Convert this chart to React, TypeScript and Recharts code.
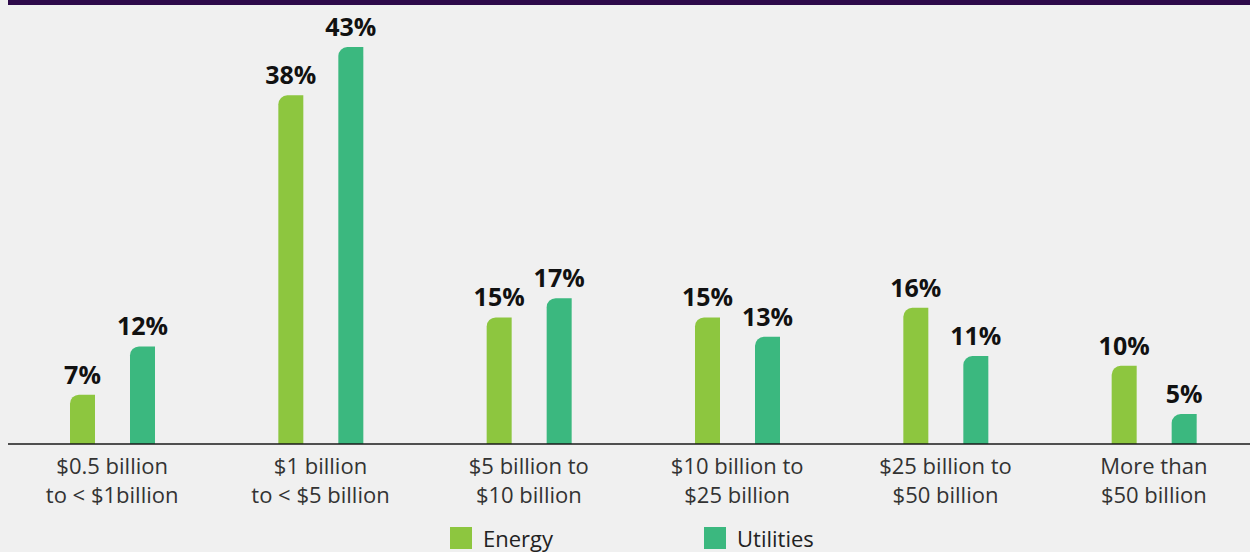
import React from 'react';
import { BarChart, Bar, XAxis, YAxis, LabelList, Legend } from 'recharts';

const categoriesTop = ['$0.5 billion', '$1 billion', '$5 billion to', '$10 billion to', '$25 billion to', 'More than'];
const categoriesBottom = ['to < $1billion', 'to < $5 billion', '$10 billion', '$25 billion', '$50 billion', '$50 billion'];
const energyValues = [7, 38, 15, 15, 16, 10];
const utilitiesValues = [12, 43, 17, 13, 11, 5];

const ENERGY = '#8dc63f';
const UTILITIES = '#3bb87f';
const FONT = '"Open Sans", "DejaVu Sans", sans-serif';

const data = categoriesTop.map((top, i) => ({
  name: top,
  bottom: categoriesBottom[i],
  energy: energyValues[i],
  utilities: utilitiesValues[i],
}));

const TwoLineTick = (props: any) => {
  const { x, y, payload, index } = props;
  return (
    <text x={x} y={y} textAnchor="middle" fill="#333" fontSize={22} fontFamily={FONT}>
      <tspan x={x} dy={22}>{payload.value}</tspan>
      <tspan x={x} dy={29}>{categoriesBottom[index]}</tspan>
    </text>
  );
};

const ValueLabel = (props: any) => {
  const { x, y, width, value } = props;
  return (
    <text x={x + width / 2} y={y - 11} textAnchor="middle" fill="#111" fontSize={25} fontWeight={700} fontFamily={FONT}>
      {value}%
    </text>
  );
};

const LegendContent = () => (
  <div style={{ position: 'relative', height: 28, fontFamily: FONT, fontSize: 22, color: '#222' }}>
    {[
      { label: 'Energy', color: ENERGY, left: 450 },
      { label: 'Utilities', color: UTILITIES, left: 704 },
    ].map((item) => (
      <div key={item.label} style={{ position: 'absolute', left: item.left, top: 0, height: 28, display: 'flex', alignItems: 'center' }}>
        <span style={{ display: 'inline-block', width: 22, height: 22, background: item.color, marginRight: 11 }} />
        <span>{item.label}</span>
      </div>
    ))}
  </div>
);

export default function App() {
  return (
    <div style={{ position: 'absolute', left: 0, top: 0, width: 1250, height: 552, overflow: 'hidden', background: '#f0f0f0' }}>
      <div style={{ position: 'absolute', left: 8, top: 0, width: 1242, height: 5, background: '#2e0a4a' }} />
      <div style={{ position: 'absolute', left: 8, top: 0 }}>
        <BarChart
          width={1250}
          height={552}
          data={data}
          margin={{ top: 47, right: 0, bottom: 0, left: 0 }}
          barSize={25}
          barGap={35}
        >
          <XAxis
            dataKey="name"
            tick={<TwoLineTick />}
            tickLine={false}
            axisLine={{ stroke: '#1a1a1a', strokeWidth: 1.5 }}
            interval={0}
            height={80}
          />
          {/* the source's value axis starts a little above zero */}
          <YAxis hide domain={[1.9, 43]} />
          <Legend
            verticalAlign="bottom"
            content={<LegendContent />}
            wrapperStyle={{ position: 'absolute', left: -8, top: 524, width: 1250, height: 28 }}
          />
          <Bar dataKey="energy" name="Energy" fill={ENERGY} radius={[9, 0, 0, 0]} isAnimationActive={false}>
            <LabelList dataKey="energy" content={<ValueLabel />} />
          </Bar>
          <Bar dataKey="utilities" name="Utilities" fill={UTILITIES} radius={[9, 0, 0, 0]} isAnimationActive={false}>
            <LabelList dataKey="utilities" content={<ValueLabel />} />
          </Bar>
        </BarChart>
      </div>
    </div>
  );
}
